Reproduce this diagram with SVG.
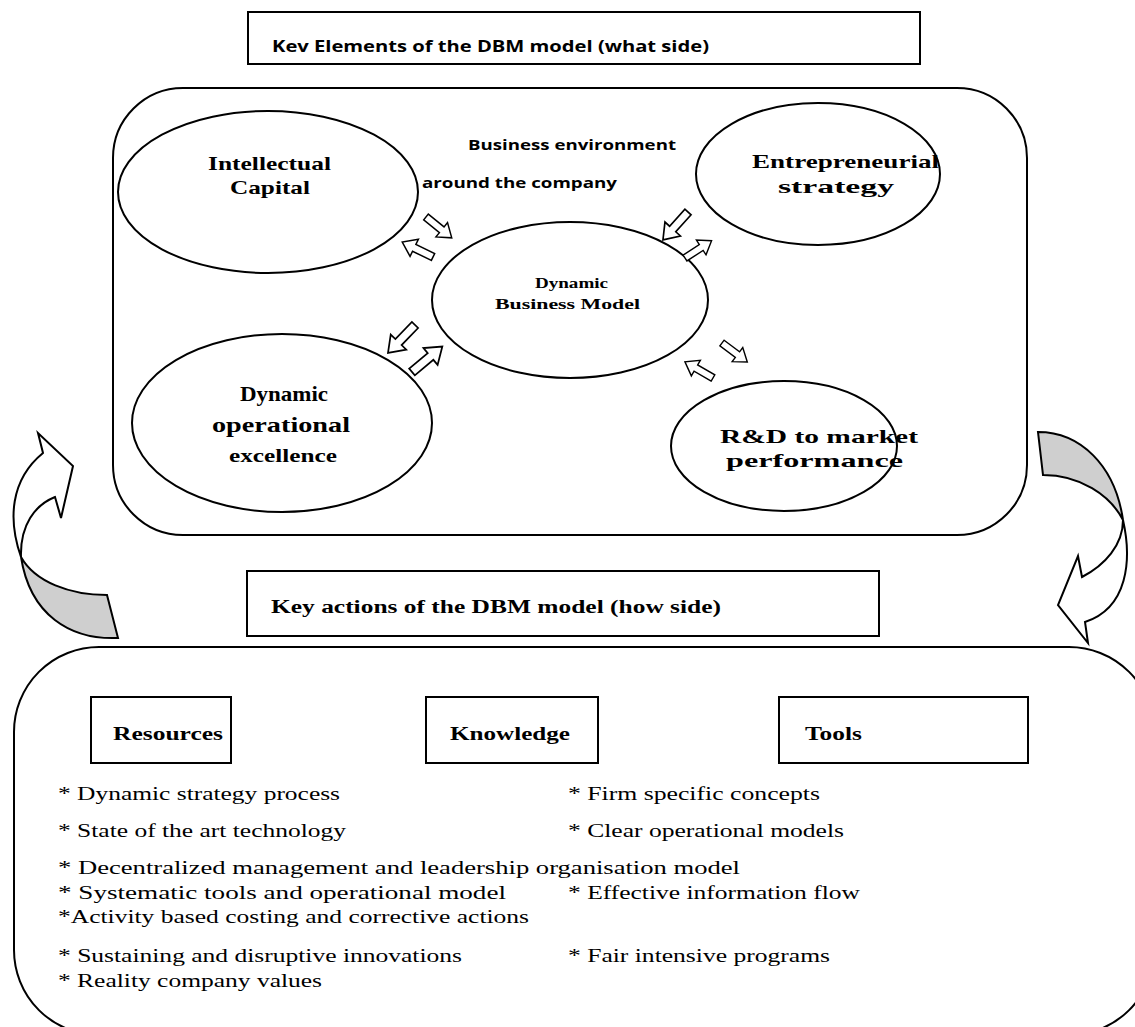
<svg xmlns="http://www.w3.org/2000/svg" xmlns:xlink="http://www.w3.org/1999/xlink" width="1135" height="1027" viewBox="0 0 1135 1027">
<style>
.ln{fill:none;stroke:#000;stroke-width:2}
.wf{fill:#fff;stroke:#000;stroke-width:2;stroke-linejoin:miter}
.gf{fill:#cfcfcf;stroke:#000;stroke-width:2}
.sans{font-family:"Open Sans","Liberation Sans",sans-serif;font-weight:bold;fill:#000}
.serb{font-family:"Liberation Serif","Times New Roman",serif;font-weight:bold;fill:#000}
.ser{font-family:"Liberation Serif","Times New Roman",serif;font-size:19px;fill:#000}
.ba{fill:#fff;stroke:#000;stroke-width:1.6}
</style>
<defs>
<path id="ba" d="M0,-4 H22 V-10 L36,0 L22,10 V4 H0 Z"/>
</defs>
<rect width="1135" height="1027" fill="#fff"/>

<g id="title-what">
<rect x="248" y="12" width="672" height="52" class="ln"/>
<text x="272" y="52" class="sans" font-size="16" textLength="437" lengthAdjust="spacingAndGlyphs">Kev Elements of the DBM model (what side)</text>
</g>

<g id="what-container">
<rect x="113" y="88" width="914" height="447" rx="70" ry="70" class="ln"/>
<text x="468" y="150" class="sans" font-size="15" textLength="208" lengthAdjust="spacingAndGlyphs">Business environment</text>
<text x="422" y="188" class="sans" font-size="15" textLength="195" lengthAdjust="spacingAndGlyphs">around the company</text>
</g>

<g id="intellectual-capital">
<ellipse cx="268" cy="192" rx="150" ry="81" class="ln"/>
<text x="208" y="170" class="serb" font-size="19" textLength="123" lengthAdjust="spacingAndGlyphs">Intellectual</text>
<text x="230" y="194" class="serb" font-size="19" textLength="80" lengthAdjust="spacingAndGlyphs">Capital</text>
</g>

<g id="entrepreneurial-strategy">
<ellipse cx="818" cy="174" rx="122" ry="71" class="ln"/>
<text x="752" y="168" class="serb" font-size="19" textLength="187" lengthAdjust="spacingAndGlyphs">Entrepreneurial</text>
<text x="778" y="193" class="serb" font-size="19" textLength="116" lengthAdjust="spacingAndGlyphs">strategy</text>
</g>

<g id="dynamic-business-model">
<ellipse cx="570" cy="300" rx="138" ry="78" class="ln"/>
<text x="535" y="288" class="serb" font-size="14" textLength="73" lengthAdjust="spacingAndGlyphs">Dynamic</text>
<text x="495" y="309" class="serb" font-size="14" textLength="145" lengthAdjust="spacingAndGlyphs">Business Model</text>
</g>

<g id="dynamic-operational-excellence">
<ellipse cx="282" cy="423" rx="150" ry="89" class="ln"/>
<text x="240" y="401" class="serb" font-size="22" textLength="88" lengthAdjust="spacingAndGlyphs">Dynamic</text>
<text x="212" y="432" class="serb" font-size="22" textLength="138" lengthAdjust="spacingAndGlyphs">operational</text>
<text x="229" y="462" class="serb" font-size="19" textLength="108" lengthAdjust="spacingAndGlyphs">excellence</text>
</g>

<g id="rd-market-performance">
<ellipse cx="784" cy="446" rx="113" ry="65" class="ln"/>
<text x="720" y="443" class="serb" font-size="19" textLength="198" lengthAdjust="spacingAndGlyphs">R&amp;D to market</text>
<text x="726" y="467" class="serb" font-size="19" textLength="177" lengthAdjust="spacingAndGlyphs">performance</text>
</g>

<g id="connectors">
<use xlink:href="#ba" class="ba" transform="translate(426,217) rotate(39) scale(0.92)"/>
<use xlink:href="#ba" class="ba" transform="translate(433,257) rotate(206) scale(0.95)"/>
<use xlink:href="#ba" class="ba" transform="translate(688,212) rotate(132) scale(1.04)"/>
<use xlink:href="#ba" class="ba" transform="translate(685,258) rotate(-33) scale(0.88)"/>
<use xlink:href="#ba" class="ba" transform="translate(415,325) rotate(134) scale(1.08)"/>
<use xlink:href="#ba" class="ba" transform="translate(412,372) rotate(-40) scale(1.1)"/>
<use xlink:href="#ba" class="ba" transform="translate(722,343) rotate(37) scale(0.88)"/>
<use xlink:href="#ba" class="ba" transform="translate(713,378) rotate(210) scale(0.9)"/>

<path class="gf" d="M21,557 C35,582 70,595 107,595 L118,638 C70,640 30,615 21,557 Z"/>
<path class="wf" d="M21,557 C8,520 10,480 43,453 L38,433 L73,466 L61,518 L55,497 C35,505 20,525 21,557 Z"/>

<path class="gf" d="M1038,432 C1080,432 1115,465 1123,520 C1110,495 1080,475 1043,475 Z"/>
<path class="wf" d="M1123,520 C1132,560 1128,608 1085,622 L1088,643 L1058,605 L1078,556 L1082,577 C1105,565 1123,545 1123,520 Z"/>
</g>

<g id="title-how">
<rect x="247" y="571" width="632" height="65" class="ln"/>
<text x="271" y="613" class="serb" font-size="18" textLength="450" lengthAdjust="spacingAndGlyphs">Key actions of the DBM model (how side)</text>
</g>

<g id="how-container">
<rect x="14" y="647" width="1140" height="388" rx="85" ry="85" class="ln"/>
</g>

<g id="resources">
<rect x="91" y="697" width="140" height="66" class="ln"/>
<text x="113" y="740" class="serb" font-size="19" textLength="110" lengthAdjust="spacingAndGlyphs">Resources</text>
</g>
<g id="knowledge">
<rect x="426" y="697" width="172" height="66" class="ln"/>
<text x="450" y="740" class="serb" font-size="19" textLength="120" lengthAdjust="spacingAndGlyphs">Knowledge</text>
</g>
<g id="tools">
<rect x="779" y="697" width="249" height="66" class="ln"/>
<text x="805" y="740" class="serb" font-size="19" textLength="57" lengthAdjust="spacingAndGlyphs">Tools</text>
</g>

<g id="actions-list">
<text x="58" y="800" class="ser" textLength="282" lengthAdjust="spacingAndGlyphs">* Dynamic strategy process</text>
<text x="568" y="800" class="ser" textLength="252" lengthAdjust="spacingAndGlyphs">* Firm specific concepts</text>
<text x="58" y="837" class="ser" textLength="288" lengthAdjust="spacingAndGlyphs">* State of the art technology</text>
<text x="568" y="837" class="ser" textLength="276" lengthAdjust="spacingAndGlyphs">* Clear operational models</text>
<text x="58" y="874" class="ser" textLength="682" lengthAdjust="spacingAndGlyphs">* Decentralized management and leadership organisation model</text>
<text x="58" y="899" class="ser" textLength="448" lengthAdjust="spacingAndGlyphs">* Systematic tools and operational model</text>
<text x="568" y="899" class="ser" textLength="292" lengthAdjust="spacingAndGlyphs">* Effective information flow</text>
<text x="58" y="923" class="ser" textLength="471" lengthAdjust="spacingAndGlyphs">*Activity based costing and corrective actions</text>
<text x="58" y="962" class="ser" textLength="404" lengthAdjust="spacingAndGlyphs">* Sustaining and disruptive innovations</text>
<text x="568" y="962" class="ser" textLength="262" lengthAdjust="spacingAndGlyphs">* Fair intensive programs</text>
<text x="58" y="987" class="ser" textLength="264" lengthAdjust="spacingAndGlyphs">* Reality company values</text>
</g>
</svg>
